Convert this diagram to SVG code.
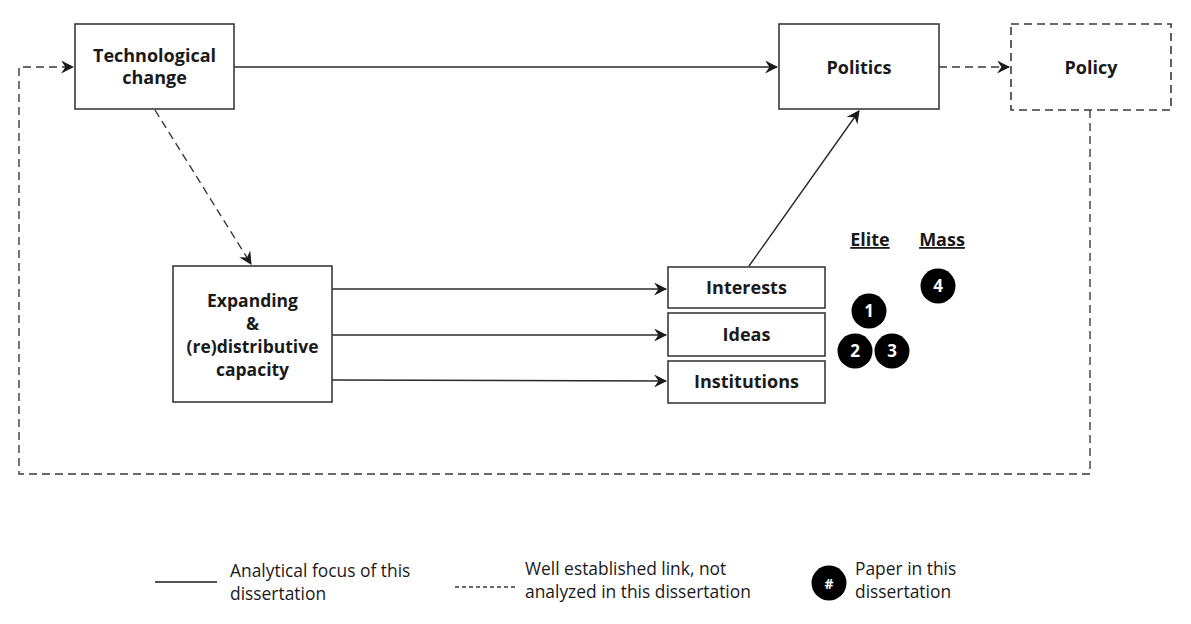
<svg xmlns="http://www.w3.org/2000/svg" width="1191" height="624" viewBox="0 0 1191 624">
<defs>
<marker id="ah" viewBox="0 0 12 12" refX="11" refY="6" markerWidth="13" markerHeight="13" markerUnits="userSpaceOnUse" orient="auto">
<path d="M0,0 L12,6 L0,12 L4,6 Z" fill="#1a1a1a"/>
</marker>
</defs>
<style>
.box{fill:#fff;stroke:#3a3a3a;stroke-width:1.6}
.dbox{fill:#fff;stroke:#3a3a3a;stroke-width:1.6;stroke-dasharray:8 5}
.t{font-family:"Open Sans","Noto Sans",sans-serif;font-weight:bold;font-size:18px;fill:#1a1a1a;text-anchor:middle}
.e{font-size:17.5px}
.l{font-family:"Open Sans","Noto Sans",sans-serif;font-size:17.4px;fill:#1a1a1a}
.s{stroke:#2a2a2a;stroke-width:1.4;fill:none}
.d{stroke:#3a3a3a;stroke-width:1.4;fill:none;stroke-dasharray:8 5}
.c{fill:#000}
.n{font-family:"Open Sans","Noto Sans",sans-serif;font-weight:bold;font-size:17px;fill:#fff;text-anchor:middle}
</style>
<rect width="1191" height="624" fill="#fff"/>
<g id="connectors">
<line class="s" x1="234" y1="67" x2="777" y2="67" marker-end="url(#ah)"/>
<line class="d" x1="939" y1="67" x2="1009" y2="67" marker-end="url(#ah)"/>
<polyline class="d" points="1090,110 1090,474 19,474 19,67 73,67" marker-end="url(#ah)"/>
<line class="d" x1="155" y1="110" x2="251" y2="264" marker-end="url(#ah)"/>
<line class="s" x1="332" y1="289" x2="666" y2="289" marker-end="url(#ah)"/>
<line class="s" x1="332" y1="335" x2="666" y2="335" marker-end="url(#ah)"/>
<line class="s" x1="332" y1="380" x2="666" y2="381" marker-end="url(#ah)"/>
<line class="s" x1="749" y1="266" x2="859" y2="111" marker-end="url(#ah)"/>
</g>
<g id="tech">
<rect class="box" x="75" y="24" width="159" height="85"/>
<text class="t" x="154.5" y="62">Technological</text>
<text class="t" x="154.5" y="84">change</text>
</g>
<g id="politics">
<rect class="box" x="779" y="24" width="160" height="85"/>
<text class="t" x="859" y="74">Politics</text>
</g>
<g id="policy">
<rect class="dbox" x="1011" y="24" width="160" height="86"/>
<text class="t" x="1091" y="74">Policy</text>
</g>
<g id="expanding">
<rect class="box" x="173" y="266" width="159" height="136"/>
<text class="t e" x="252.5" y="307">Expanding</text>
<text class="t e" x="252.5" y="330">&amp;</text>
<text class="t e" x="252.5" y="353">(re)distributive</text>
<text class="t e" x="252.5" y="376">capacity</text>
</g>
<g id="interests">
<rect class="box" x="668" y="267" width="157" height="41"/>
<text class="t" x="746.5" y="294">Interests</text>
</g>
<g id="ideas">
<rect class="box" x="668" y="313" width="157" height="43"/>
<text class="t" x="746.5" y="341">Ideas</text>
</g>
<g id="institutions">
<rect class="box" x="668" y="361" width="157" height="42"/>
<text class="t" x="746.5" y="388">Institutions</text>
</g>
<g id="labels">
<text class="t" x="870" y="246" text-decoration="underline">Elite</text>
<text class="t" x="942" y="246" text-decoration="underline">Mass</text>
</g>
<g id="paper4"><circle class="c" cx="938" cy="286" r="17.5"/><text class="n" x="938" y="292">4</text></g>
<g id="paper1"><circle class="c" cx="869" cy="311" r="17.5"/><text class="n" x="869" y="317">1</text></g>
<g id="paper2"><circle class="c" cx="855" cy="351" r="17.5"/><text class="n" x="855" y="357">2</text></g>
<g id="paper3"><circle class="c" cx="892" cy="351" r="17.5"/><text class="n" x="892" y="357">3</text></g>
<g id="legend">
<line x1="155" y1="582" x2="217" y2="582" stroke="#1a1a1a" stroke-width="1.6"/>
<text class="l" x="230" y="577">Analytical focus of this</text>
<text class="l" x="230" y="600">dissertation</text>
<line x1="455" y1="587" x2="518" y2="587" stroke="#3a3a3a" stroke-width="1.4" stroke-dasharray="4 3"/>
<text class="l" x="525" y="575">Well established link, not</text>
<text class="l" x="525" y="598">analyzed in this dissertation</text>
<circle class="c" cx="829" cy="583" r="17.5"/>
<text class="n" x="829" y="589" style="font-size:14px">#</text>
<text class="l" x="855" y="575">Paper in this</text>
<text class="l" x="855" y="598">dissertation</text>
</g>
</svg>
